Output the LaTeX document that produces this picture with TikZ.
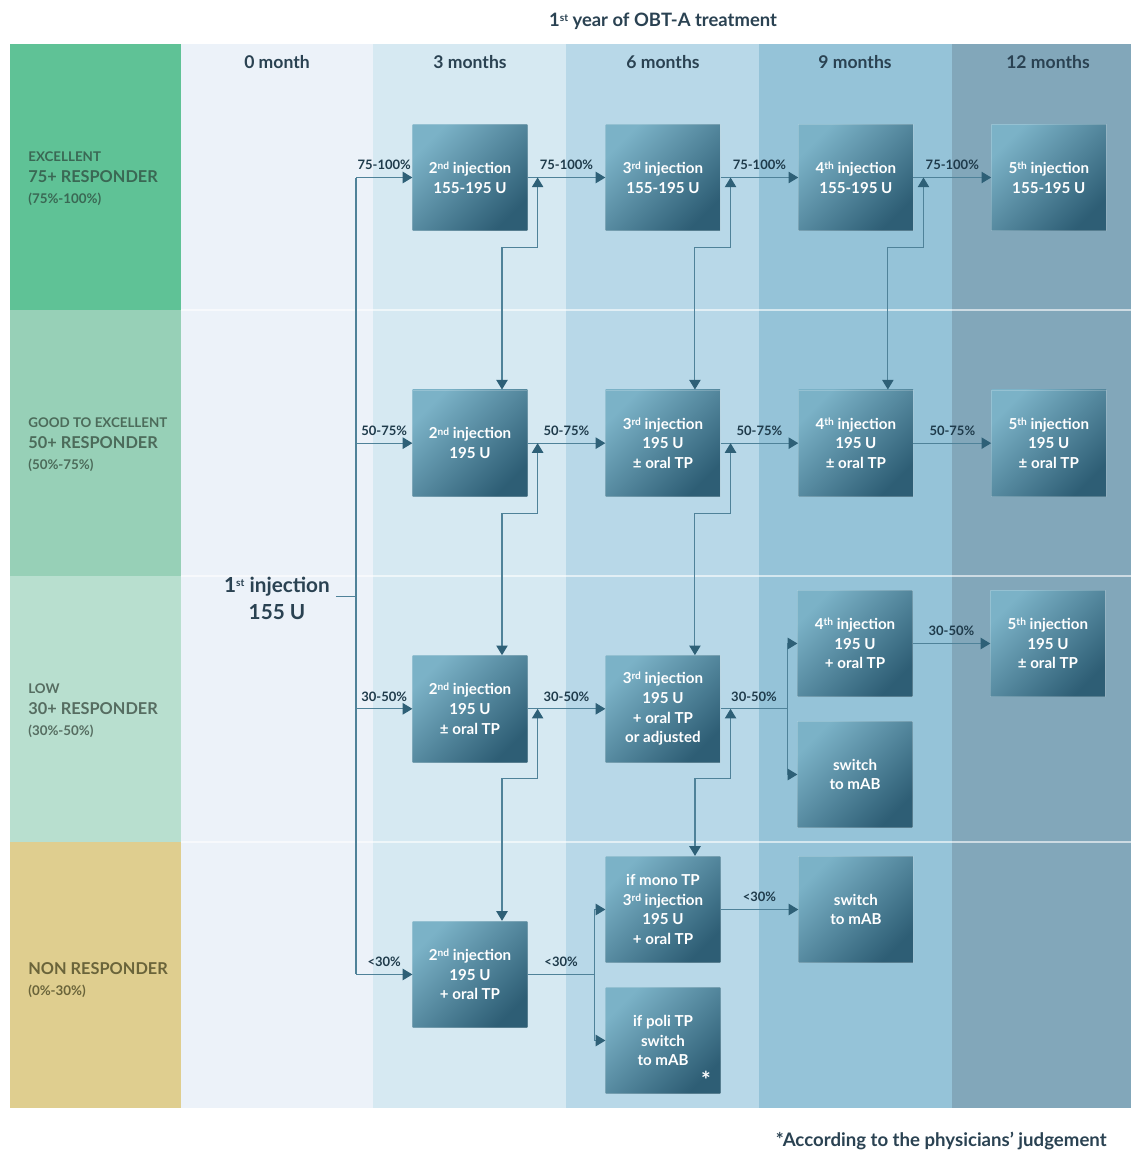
\documentclass[tikz,border=0pt]{standalone}
\usepackage{fontspec}
\setmainfont{Lato}
\usetikzlibrary{arrows.meta,positioning,calc}

\definecolor{colzero}{HTML}{ECF2F9}
\definecolor{colthree}{HTML}{D6E9F2}
\definecolor{colsix}{HTML}{B8D8E8}
\definecolor{colnine}{HTML}{95C3D8}
\definecolor{coltwelve}{HTML}{82A7BA}
\definecolor{excbg}{HTML}{5FC296}
\definecolor{goodbg}{HTML}{97D0B7}
\definecolor{lowbg}{HTML}{B8DFCF}
\definecolor{nonbg}{HTML}{DFCE8F}
\definecolor{exctxt}{HTML}{3A6854}
\definecolor{goodtxt}{HTML}{4C6B5A}
\definecolor{lowtxt}{HTML}{566D61}
\definecolor{nontxt}{HTML}{6A643A}
\definecolor{boxlt}{HTML}{7BB2C7}
\definecolor{boxdk}{HTML}{2E5E75}
\definecolor{headtxt}{HTML}{2A4252}
\definecolor{pcttxt}{HTML}{1F3B4B}
\definecolor{linec}{HTML}{4F8299}
\definecolor{arrowc}{HTML}{2E6077}

\newcommand{\lblsm}{\bfseries\fontsize{7.6}{10.8}\selectfont}
\newcommand{\lblbig}{\bfseries\fontsize{9.3}{10.8}\selectfont}
\newcommand{\ord}[1]{\raisebox{.5ex}{\fontsize{5.8}{5.8}\selectfont #1}}

\begin{document}
\begin{tikzpicture}[
        x=0.02cm, y=-0.02cm,
        node distance=90.14pt and 44.22pt,
        inj/.style={minimum width=65.19pt, minimum height=60.66pt, inner sep=0pt, align=center, text=white,
            font=\bfseries\fontsize{8.6}{11.2}\selectfont, top color=boxlt, bottom color=boxdk, shading angle=45,
            draw=white, draw opacity=.2},
        month/.style={font=\bfseries\fontsize{10}{12}\selectfont, text=headtxt},
        pct/.style={font=\bfseries\fontsize{7.4}{9}\selectfont, text=pcttxt, above=3pt, inner sep=1pt},
        rowlbl/.style={anchor=north west, align=left, inner sep=0pt, font=\lblsm},
        link/.style={draw=linec, line width=.6pt},
        arr/.style={link, -{Triangle[length=5.5pt, width=6.5pt, color=arrowc, fill=arrowc]}},
        dbl/.style={link, {Triangle[length=5.5pt, width=6.5pt, color=arrowc, fill=arrowc]}-{Triangle[length=5.5pt, width=6.5pt, color=arrowc, fill=arrowc]}},
    ]
        \useasboundingbox[fill=white] (0,0) rectangle (1131,1150);
        % month columns and response rows
        \fill[colzero] (181,44) rectangle (373,1108);
        \fill[colthree] (373,44) rectangle (566,1108);
        \fill[colsix] (566,44) rectangle (759,1108);
        \fill[colnine] (759,44) rectangle (952,1108);
        \fill[coltwelve] (952,44) rectangle (1131,1108);
        \fill[excbg] (10,44) rectangle (181,310);
        \fill[goodbg] (10,310) rectangle (181,576);
        \fill[lowbg] (10,576) rectangle (181,842);
        \fill[nonbg] (10,842) rectangle (181,1108);
        \foreach \y in {310,576,842}
            \draw[white, opacity=.6, line width=.6pt] (181,\y) -- (1131,\y);

        \node[font=\bfseries\fontsize{10.5}{12}\selectfont, text=headtxt] (title) at (663,21) {1\ord{st} year of OBT-A treatment};
        \node[month] (m0) at (277,62) {0 month};
        \node[month] (m3) at (470,62) {3 months};
        \node[month] (m6) at (663,62) {6 months};
        \node[month] (m9) at (855,62) {9 months};
        \node[month] (m12) at (1048,62) {12 months};

        \node[rowlbl, text=exctxt] (lexc) at (28,151) {EXCELLENT\\[1.1pt]{\lblbig 75+ RESPONDER}\\[1.2pt](75\%-100\%)};
        \node[rowlbl, text=goodtxt] (lgood) at (28,417) {GOOD TO EXCELLENT\\[1.1pt]{\lblbig 50+ RESPONDER}\\[1.2pt](50\%-75\%)};
        \node[rowlbl, text=lowtxt] (llow) at (28,683) {LOW\\[1.1pt]{\lblbig 30+ RESPONDER}\\[1.2pt](30\%-50\%)};
        \node[rowlbl, text=nontxt, font=\lblbig] (lnon) at (28,962) {NON RESPONDER\\[1.2pt]{\lblsm (0\%-30\%)}};

        \node[font=\bfseries\fontsize{11.8}{15.3}\selectfont, text=headtxt, align=center] (inj1) at (277,598) {1\ord{st} injection\\155 U};

        % injections
        \node[inj] (exc2) at (470,177.5) {2\ord{nd} injection\\155-195 U};
        \node[inj, right=of exc2] (exc3) {3\ord{rd} injection\\155-195 U};
        \node[inj, right=of exc3] (exc4) {4\ord{th} injection\\155-195 U};
        \node[inj, right=of exc4] (exc5) {5\ord{th} injection\\155-195 U};
        \node[inj, below=of exc2] (good2) {2\ord{nd} injection\\195 U};
        \node[inj, right=of good2] (good3) {3\ord{rd} injection\\195 U\\± oral TP};
        \node[inj, right=of good3] (good4) {4\ord{th} injection\\195 U\\± oral TP};
        \node[inj, right=of good4] (good5) {5\ord{th} injection\\195 U\\± oral TP};
        \node[inj, below=of good2] (low2) {2\ord{nd} injection\\195 U\\± oral TP};
        \node[inj, right=of low2] (low3) {3\ord{rd} injection\\195 U\\+ oral TP\\or adjusted};
        \node[inj] (low4) at (855,643.5) {4\ord{th} injection\\195 U\\+ oral TP};
        \node[inj, right=of low4] (low5) {5\ord{th} injection\\195 U\\± oral TP};
        \node[inj] (low4s) at (855,774.5) {switch\\to mAB};
        \node[inj, below=of low2] (non2) {2\ord{nd} injection\\195 U\\+ oral TP};
        \node[inj] (non3m) at (663,909.5) {if mono TP\\3\ord{rd} injection\\195 U\\+ oral TP};
        \node[inj] (non3p) at (663,1040.5) {if poli TP\\switch\\to mAB};
        \node[inj, right=of non3m] (non4s) {switch\\to mAB};
        \node[text=white, font=\bfseries\fontsize{13}{13}\selectfont, inner sep=0pt] (ast) at (706,1080) {*};

        % first injection trunk
        \coordinate (tr) at (356,596);
        \draw[link] ([yshift=1pt]inj1.east) -- ([yshift=1pt]inj1.east -| tr);
        \draw[link] (tr |- exc2.west) -- (tr |- non2.west);
        \foreach \b/\p in {exc2/75-100\%, good2/50-75\%, low2/30-50\%, non2/{<30\%}}
            \draw[arr] (tr |- \b.west) -- node[pct] {\p} (\b.west);

        % along the rows
        \foreach \a/\b/\p in {exc2/exc3/75-100\%, exc3/exc4/75-100\%, exc4/exc5/75-100\%,
                good2/good3/50-75\%, good3/good4/50-75\%, good4/good5/50-75\%,
                low2/low3/30-50\%, low4/low5/30-50\%, non3m/non4s/{<30\%}}
            \draw[arr] (\a) -- node[pct] {\p} (\b);
        \coordinate (flow) at ($(low3.east)+(67,0)$);
        \draw[link] (low3.east) -- node[pct] {30-50\%} (flow);
        \draw[arr] (flow) |- (low4.west);
        \draw[arr] (flow) |- (low4s.west);
        \coordinate (fnon) at ($(non2.east)+(67,0)$);
        \draw[link] (non2.east) -- node[pct] {<30\%} (fnon);
        \draw[arr] (fnon) |- (non3m.west);
        \draw[arr] (fnon) |- (non3p.west);

        % between the rows
        \foreach \a/\b in {exc2/good2, exc3/good3, exc4/good4, good2/low2, good3/low3, low2/non2, low3/non3m}
            \draw[dbl] ($(\a.east)+(10,0)$) -- ++(0,70) -| ($(\b.north)+(32,0)$);

        \node[font=\bfseries\fontsize{10.6}{12}\selectfont, text=headtxt, anchor=east, inner sep=0pt] (note) at (1107,1141) {*According to the physicians' judgement};
    \end{tikzpicture}
\end{document}
